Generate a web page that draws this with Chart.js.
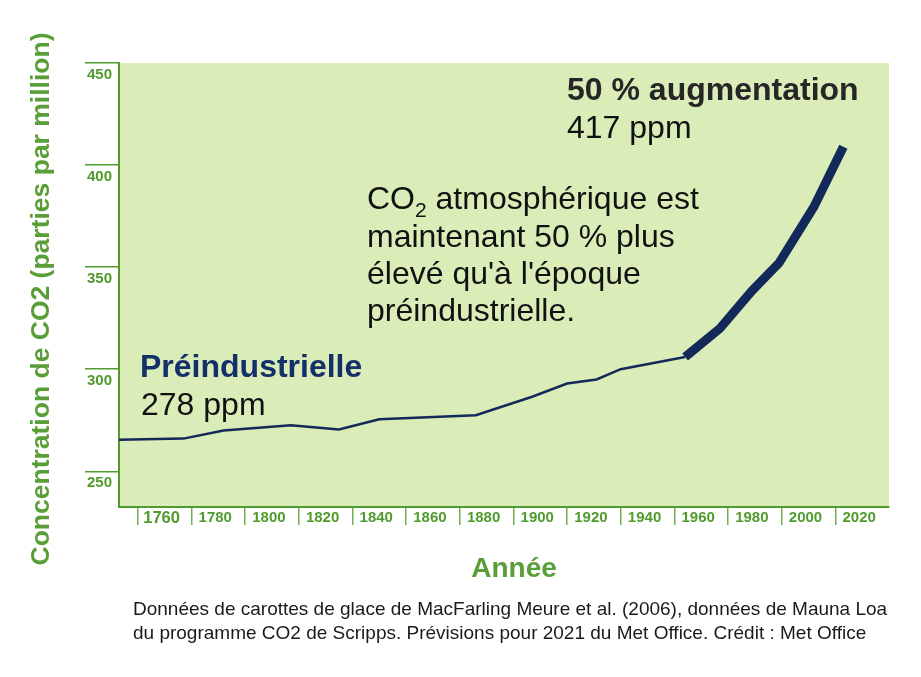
<!DOCTYPE html>
<html lang="fr">
<head>
<meta charset="utf-8">
<title>Concentration de CO2</title>
<script src="https://cdn.jsdelivr.net/npm/chart.js@4.4.1/dist/chart.umd.min.js"></script>
<style>
  html, body { margin: 0; padding: 0; background: #fff; }
  canvas { display: block; }
</style>
</head>
<body>
<canvas id="co2Chart" width="921" height="677"></canvas>
<script>
// Valeurs (ppm) - ligne fine, époque préindustrielle
const preYears = [1743, 1767, 1782, 1807, 1825, 1840, 1876, 1897, 1910, 1921, 1930, 1954];
const prePpm   = [265.5, 266, 270, 272.5, 270.5, 275.5, 277.5, 286.5, 293, 295, 300, 306];

// ligne épaisse, époque moderne
const modernYears = [1954, 1967, 1979, 1989, 2002, 2013];
const modernPpm   = [306, 320, 338.5, 352, 379.5, 409];

// axes
const yTicks = [250, 300, 350, 400, 450];
const xLabels = [1760, 1780, 1800, 1820, 1840, 1860, 1880, 1900, 1920, 1940, 1960, 1980, 2000, 2020];
const xSeparators = [1750, 1770, 1790, 1810, 1830, 1850, 1870, 1890, 1910, 1930, 1950, 1970, 1990, 2010];

const GREEN = '#4f9b2c';
const TITLE_GREEN = '#5a9e38';
const NAVY = '#13295a';
const PLOT_BG = '#daedb8';
const FONT = "'Liberation Sans', Arial, sans-serif";

Chart.defaults.font.family = FONT;

function toPoints(xs, ys) {
  return xs.map((x, i) => ({ x, y: ys[i] }));
}

function text(ctx, str, x, y, font, color, align) {
  ctx.font = font;
  ctx.fillStyle = color;
  ctx.textAlign = align || 'left';
  ctx.textBaseline = 'alphabetic';
  ctx.fillText(str, x, y);
}

// fond vert, titres, annotations et source
const decor = {
  id: 'decor',
  beforeDraw(chart) {
    const { ctx, chartArea: a } = chart;
    ctx.save();
    ctx.fillStyle = '#fff';
    ctx.fillRect(0, 0, chart.width, chart.height);
    ctx.fillStyle = PLOT_BG;
    ctx.fillRect(a.left, a.top, a.right - a.left, a.bottom - a.top);
    ctx.restore();
  },
  afterDraw(chart) {
    const ctx = chart.ctx;
    const big = '32px ' + FONT;
    ctx.save();

    // titre axe Y
    ctx.save();
    ctx.translate(49, 299);
    ctx.rotate(-Math.PI / 2);
    text(ctx, 'Concentration de CO2 (parties par million)', 0, 0, 'bold 26.5px ' + FONT, TITLE_GREEN, 'center');
    ctx.restore();

    // titre axe X
    text(ctx, 'Année', 514, 577, 'bold 28px ' + FONT, TITLE_GREEN, 'center');

    // annotations
    text(ctx, '50 % augmentation', 567, 100, 'bold ' + big, '#262626');
    text(ctx, '417 ppm', 567, 138, big, '#111');

    text(ctx, 'CO', 367, 209, big, '#111');
    let w = ctx.measureText('CO').width;
    text(ctx, '2', 367 + w, 216.5, '21px ' + FONT, '#111');
    w += ctx.measureText('2').width;
    text(ctx, ' atmosphérique est', 367 + w, 209, big, '#111');
    text(ctx, 'maintenant 50 % plus', 367, 246.5, big, '#111');
    text(ctx, "élevé qu'à l'époque", 367, 284, big, '#111');
    text(ctx, 'préindustrielle.', 367, 321, big, '#111');

    text(ctx, 'Préindustrielle', 140, 377, 'bold ' + big, '#14306a');
    text(ctx, '278 ppm', 141, 415, big, '#111');

    // source
    text(ctx, 'Données de carottes de glace de MacFarling Meure et al. (2006), données de Mauna Loa', 133, 615, '19px ' + FONT, '#1a1a1a');
    text(ctx, 'du programme CO2 de Scripps. Prévisions pour 2021 du Met Office. Crédit : Met Office', 133, 639, '19px ' + FONT, '#1a1a1a');

    ctx.restore();
  }
};

new Chart(document.getElementById('co2Chart'), {
  type: 'line',
  data: {
    datasets: [
      {
        data: toPoints(preYears, prePpm),
        borderColor: NAVY,
        borderWidth: 2.5,
        pointRadius: 0,
        tension: 0
      },
      {
        data: toPoints(modernYears, modernPpm),
        borderColor: NAVY,
        borderWidth: 9,
        borderCapStyle: 'butt',
        pointRadius: 0,
        tension: 0
      }
    ]
  },
  options: {
    responsive: false,
    animation: false,
    events: [],
    layout: { padding: { left: 87, top: 63, right: 32, bottom: 0 } },
    plugins: { legend: { display: false }, tooltip: { enabled: false } },
    scales: {
      x: {
        type: 'linear',
        min: 1743,
        max: 2030,
        afterBuildTicks: (s) => {
          s.ticks = xSeparators.concat(xLabels).sort((a, b) => a - b).map(v => ({ value: v }));
        },
        afterFit: (s) => { s.height = 170; },
        border: { color: GREEN, width: 2 },
        grid: {
          drawOnChartArea: false,
          tickLength: 18,
          lineWidth: 1.5,
          color: (c) => (c.tick && xSeparators.includes(c.tick.value)) ? '#74b04f' : 'rgba(0,0,0,0)'
        },
        ticks: {
          autoSkip: false,
          maxRotation: 0,
          padding: -16,
          labelOffset: -3,
          color: GREEN,
          font: (c) => ({ size: c.tick && c.tick.value === 1760 ? 16.5 : 15, weight: 'bold' }),
          callback: (v) => xLabels.includes(v) ? String(v) : ''
        }
      },
      y: {
        min: 232.5,
        max: 450,
        afterBuildTicks: (s) => { s.ticks = yTicks.map(v => ({ value: v })); },
        afterFit: (s) => { s.width = 32; },
        border: { color: GREEN, width: 2 },
        grid: {
          drawOnChartArea: false,
          tickLength: 34,
          lineWidth: 1.5,
          color: GREEN
        },
        ticks: {
          crossAlign: 'far',
          labelOffset: 12,
          color: GREEN,
          font: { size: 15, weight: 'bold' }
        }
      }
    }
  },
  plugins: [decor]
});
</script>
</body>
</html>
